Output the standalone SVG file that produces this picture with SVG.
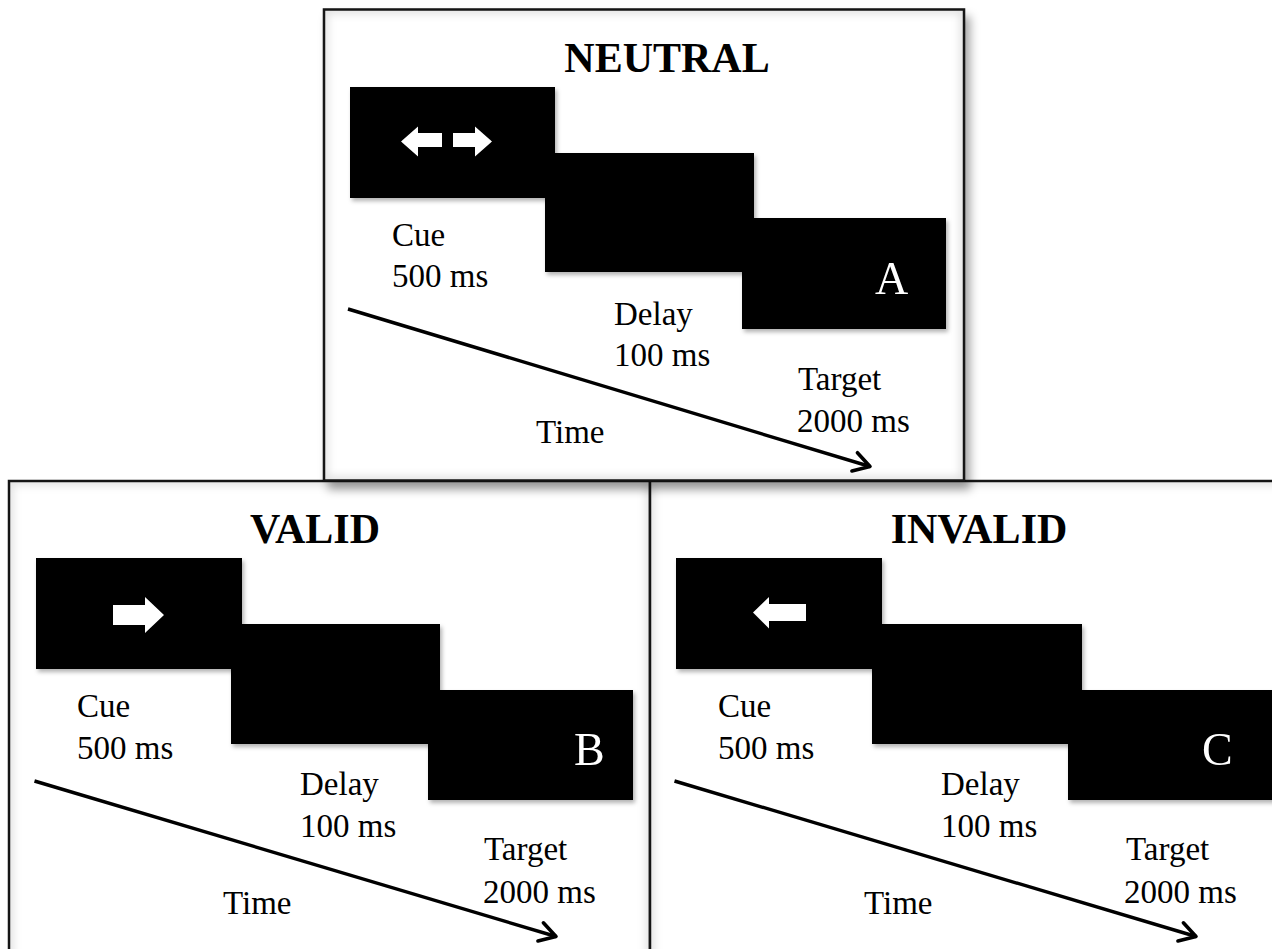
<svg xmlns="http://www.w3.org/2000/svg" width="1272" height="949" viewBox="0 0 1272 949">
  <defs>
    <style>
      .panel { fill: #ffffff; stroke: #161616; stroke-width: 2.5; }
      .inner { fill: none; stroke: #000; stroke-width: 8; stroke-opacity: 0.13; }
      .screen { fill: #000000; }
      .cue { fill: #ffffff; }
      .title { font-family: "Liberation Serif", "Times New Roman", serif; font-weight: bold; font-size: 42px; fill: #000; text-anchor: middle; }
      .label { font-family: "Liberation Serif", "Times New Roman", serif; font-size: 33px; fill: #000; }
      .letter { font-family: "Liberation Serif", "Times New Roman", serif; font-size: 46px; fill: #fff; }
      .time { fill: none; stroke: #000; stroke-width: 3.4; }
    </style>
    <filter id="panelShadow" x="-5%" y="-5%" width="115%" height="115%">
      <feDropShadow dx="5" dy="8" stdDeviation="5" flood-color="#000" flood-opacity="0.35"/>
    </filter>
    <filter id="screenShadow" x="-5%" y="-5%" width="115%" height="120%">
      <feDropShadow dx="2" dy="3" stdDeviation="2" flood-color="#000" flood-opacity="0.3"/>
    </filter>
    <filter id="soft" x="-5%" y="-5%" width="110%" height="110%">
      <feGaussianBlur stdDeviation="4"/>
    </filter>
    <clipPath id="clipNeutral"><rect x="324" y="9.5" width="640" height="471"/></clipPath>
    <clipPath id="clipValid"><rect x="9" y="481" width="641" height="490"/></clipPath>
    <clipPath id="clipInvalid"><rect x="650" y="481" width="640" height="490"/></clipPath>
    <marker id="openHead" markerUnits="userSpaceOnUse" markerWidth="30" markerHeight="30" refX="0" refY="0" viewBox="-20 -15 30 30" orient="auto" overflow="visible">
      <path d="M-16,-9.5 L0,0 L-16,9.5" fill="none" stroke="#000" stroke-width="3.6" stroke-linecap="round" stroke-linejoin="round"/>
    </marker>
  </defs>

  <rect x="0" y="0" width="1272" height="949" fill="#ffffff"/>

  <!-- VALID panel (lower left) -->
  <g id="panel-valid">
    <rect class="panel" x="9" y="481" width="641" height="490"/>
    <g clip-path="url(#clipValid)"><rect class="inner" x="9" y="481" width="641" height="490" filter="url(#soft)"/></g>
    <text class="title" x="315" y="543">VALID</text>
    <g id="valid-cue" filter="url(#screenShadow)">
      <rect class="screen" x="36" y="558" width="206" height="111"/>
      <polygon class="cue" points="113,605 145,605 145,597 164,615 145,633 145,625 113,625"/>
    </g>
    <g id="valid-delay" filter="url(#screenShadow)">
      <rect class="screen" x="231" y="624" width="209" height="120"/>
    </g>
    <g id="valid-target" filter="url(#screenShadow)">
      <rect class="screen" x="428" y="690" width="205" height="110"/>
      <text class="letter" x="574" y="765">B</text>
    </g>
    <text class="label" x="77" y="717">Cue</text>
    <text class="label" x="77" y="759">500 ms</text>
    <text class="label" x="300" y="795">Delay</text>
    <text class="label" x="300" y="837">100 ms</text>
    <text class="label" x="484" y="860">Target</text>
    <text class="label" x="483" y="903">2000 ms</text>
    <text class="label" x="223" y="914">Time</text>
  </g>

  <!-- INVALID panel (lower right) -->
  <g id="panel-invalid">
    <rect class="panel" x="650" y="481" width="640" height="490"/>
    <g clip-path="url(#clipInvalid)"><rect class="inner" x="650" y="481" width="640" height="490" filter="url(#soft)"/></g>
    <text class="title" x="979" y="543">INVALID</text>
    <g id="invalid-cue" filter="url(#screenShadow)">
      <rect class="screen" x="676" y="558" width="206" height="111"/>
      <polygon class="cue" points="753,612.5 769,597 769,604 806,604 806,621 769,621 769,628.5"/>
    </g>
    <g id="invalid-delay" filter="url(#screenShadow)">
      <rect class="screen" x="872" y="624" width="210" height="120"/>
    </g>
    <g id="invalid-target" filter="url(#screenShadow)">
      <rect class="screen" x="1068" y="690" width="215" height="110"/>
      <text class="letter" x="1202" y="765">C</text>
    </g>
    <text class="label" x="718" y="717">Cue</text>
    <text class="label" x="718" y="759">500 ms</text>
    <text class="label" x="941" y="795">Delay</text>
    <text class="label" x="941" y="837">100 ms</text>
    <text class="label" x="1126" y="860">Target</text>
    <text class="label" x="1124" y="903">2000 ms</text>
    <text class="label" x="864" y="914">Time</text>
  </g>

  <!-- NEUTRAL panel (top) -->
  <g id="panel-neutral">
    <rect class="panel" x="324" y="9.5" width="640" height="471" filter="url(#panelShadow)"/>
    <g clip-path="url(#clipNeutral)"><rect class="inner" x="324" y="9.5" width="640" height="471" filter="url(#soft)"/></g>
    <text class="title" x="667" y="72">NEUTRAL</text>
    <g id="neutral-cue" filter="url(#screenShadow)">
      <rect class="screen" x="350" y="87" width="205" height="111"/>
      <polygon class="cue" points="401,141.5 418,126.5 418,133 442,133 442,147 418,147 418,156.5"/>
      <polygon class="cue" points="453,133 475,133 475,126.5 492,141.5 475,156.5 475,147 453,147"/>
    </g>
    <g id="neutral-delay" filter="url(#screenShadow)">
      <rect class="screen" x="545" y="153" width="209" height="119"/>
    </g>
    <g id="neutral-target" filter="url(#screenShadow)">
      <rect class="screen" x="742" y="218" width="204" height="111"/>
      <text class="letter" x="875" y="294">A</text>
    </g>
    <text class="label" x="392" y="246">Cue</text>
    <text class="label" x="392" y="287">500 ms</text>
    <text class="label" x="614" y="325">Delay</text>
    <text class="label" x="614" y="366">100 ms</text>
    <text class="label" x="798" y="390">Target</text>
    <text class="label" x="797" y="432">2000 ms</text>
    <text class="label" x="536" y="443">Time</text>
  </g>

  <!-- time axes -->
  <g id="connectors">
    <line class="time" x1="348" y1="309" x2="870" y2="466.5" marker-end="url(#openHead)"/>
    <line class="time" x1="34.5" y1="781" x2="556" y2="936.5" marker-end="url(#openHead)"/>
    <line class="time" x1="674.5" y1="781" x2="1196" y2="936.5" marker-end="url(#openHead)"/>
  </g>
</svg>
